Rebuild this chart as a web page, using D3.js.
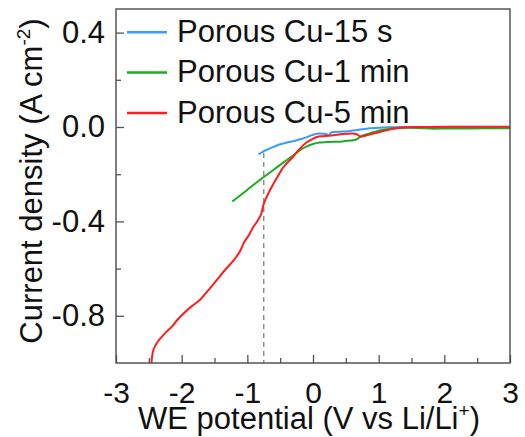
<!DOCTYPE html>
<html>
<head>
<meta charset="utf-8">
<script src="https://cdn.jsdelivr.net/npm/d3@7"></script>
<style>
  body { margin: 0; background: #fff; }
  text { font-family: "Liberation Sans", Arial, Helvetica, sans-serif; fill: #111; }
</style>
</head>
<body>
<svg id="chart" width="525" height="437"></svg>
<script>
// Linear sweep voltammetry of porous Cu electrodes
const seriesNames = ["Porous Cu-15 s", "Porous Cu-1 min", "Porous Cu-5 min"];
const seriesColors = ["#3b9cff", "#1faa22", "#ff1c1c"];

const blueX = [-0.83, -0.76, -0.70, -0.60, -0.50, -0.40, -0.30, -0.20, -0.10, 0.00, 0.10, 0.20, 0.24, 0.27, 0.31, 0.45, 0.56, 0.70, 0.82, 0.95, 1.07, 1.20, 1.32, 1.60, 2.00, 2.50, 3.00];
const blueY = [-0.116, -0.104, -0.096, -0.084, -0.073, -0.066, -0.060, -0.052, -0.044, -0.033, -0.028, -0.030, -0.036, -0.025, -0.021, -0.019, -0.017, -0.012, -0.007, -0.004, -0.002, -0.001, 0.000, 0.000, 0.000, 0.000, 0.000];

const greenX = [-1.23, -1.10, -1.00, -0.90, -0.76, -0.60, -0.45, -0.30, -0.20, -0.10, 0.00, 0.10, 0.20, 0.30, 0.45, 0.55, 0.64, 0.70, 0.76, 0.85, 0.95, 1.07, 1.17, 1.30, 1.47, 1.65, 1.83, 2.10, 2.40, 2.70, 3.00];
const greenY = [-0.316, -0.288, -0.266, -0.244, -0.214, -0.181, -0.150, -0.120, -0.098, -0.083, -0.072, -0.066, -0.064, -0.063, -0.061, -0.058, -0.055, -0.046, -0.036, -0.028, -0.020, -0.012, -0.007, -0.004, -0.003, -0.005, -0.007, -0.006, -0.006, -0.005, -0.005];

const redX = [-2.46, -2.455, -2.445, -2.43, -2.40, -2.36, -2.30, -2.23, -2.15, -2.08, -1.975, -1.85, -1.72, -1.59, -1.47, -1.34, -1.21, -1.10, -1.06, -0.97, -0.91, -0.84, -0.78, -0.76, -0.72, -0.65, -0.55, -0.45, -0.30, -0.20, -0.10, 0.00, 0.06, 0.15, 0.31, 0.45, 0.60, 0.66, 0.72, 0.82, 0.95, 1.07, 1.20, 1.32, 1.45, 1.63, 2.00, 2.50, 3.00];
const redY = [-1.000, -0.985, -0.962, -0.945, -0.926, -0.908, -0.888, -0.867, -0.846, -0.822, -0.791, -0.760, -0.732, -0.690, -0.650, -0.606, -0.565, -0.520, -0.494, -0.455, -0.424, -0.395, -0.360, -0.335, -0.305, -0.265, -0.215, -0.170, -0.125, -0.092, -0.066, -0.050, -0.042, -0.039, -0.035, -0.030, -0.028, -0.030, -0.040, -0.035, -0.026, -0.017, -0.009, -0.003, -0.001, 0.000, 0.001, 0.001, 0.001];

// Onset marker (dashed guide)
const guideX = -0.75;
const guideTop = -0.11;

const xMajor = [-3, -2, -1, 0, 1, 2, 3];
const xMinor = [-2.5, -1.5, -0.5, 0.5, 1.5, 2.5];
const yMajor = [0.4, 0.0, -0.4, -0.8];
const yMinor = [0.2, -0.2, -0.6];

const margin = { left: 116, right: 15, top: 9, bottom: 74 };
const W = 525, H = 437;
const svg = d3.select("#chart");

const x = d3.scaleLinear().domain([-3, 3]).range([margin.left, W - margin.right]);
const y = d3.scaleLinear().domain([-1.0, 0.5]).range([H - margin.bottom, margin.top]);

// plain hyphen-minus for negative tick labels
const locale = d3.formatLocale({ decimal: ".", thousands: ",", grouping: [3], currency: ["", ""], minus: "-" });
const fmtX = locale.format("d");
const fmtY = locale.format(".1f");

const clipId = "plot-clip";
svg.append("clipPath").attr("id", clipId)
  .append("rect")
  .attr("x", x(-3)).attr("y", y(0.5))
  .attr("width", x(3) - x(-3)).attr("height", y(-1.0) - y(0.5));

const plot = svg.append("g").attr("clip-path", `url(#${clipId})`);

// dashed guide
plot.append("line")
  .attr("x1", x(guideX)).attr("x2", x(guideX))
  .attr("y1", y(guideTop)).attr("y2", y(-1.0))
  .attr("stroke", "#8a8a8a").attr("stroke-width", 1.4)
  .attr("stroke-dasharray", "5,4");

const line = d3.line().x(d => x(d[0])).y(d => y(d[1])).curve(d3.curveMonotoneX);
const seriesData = [
  d3.zip(blueX, blueY),
  d3.zip(greenX, greenY),
  d3.zip(redX, redY)
];
seriesData.forEach((pts, i) => {
  plot.append("path")
    .datum(pts)
    .attr("d", line)
    .attr("fill", "none")
    .attr("stroke", seriesColors[i])
    .attr("stroke-width", 2)
    .attr("stroke-linejoin", "round");
});

// axes with inward ticks
const axisColor = "#555";
const xAxisG = svg.append("g").attr("transform", `translate(0,${y(-1.0)})`)
  .call(d3.axisBottom(x).tickValues(xMajor).tickSize(-8).tickPadding(19).tickFormat(fmtX));
svg.append("g").attr("transform", `translate(0,${y(-1.0)})`)
  .call(d3.axisBottom(x).tickValues(xMinor).tickSize(-5).tickFormat(""));
const yAxisG = svg.append("g").attr("transform", `translate(${x(-3)},0)`)
  .call(d3.axisLeft(y).tickValues(yMajor).tickSize(-8).tickPadding(11).tickFormat(fmtY));
svg.append("g").attr("transform", `translate(${x(-3)},0)`)
  .call(d3.axisLeft(y).tickValues(yMinor).tickSize(-5).tickFormat(""));

svg.selectAll(".domain").remove();
svg.selectAll(".tick line").attr("stroke", axisColor).attr("stroke-width", 1.3);
svg.selectAll(".tick text")
  .attr("font-family", "Liberation Sans, Arial, sans-serif")
  .attr("fill", "#111");
yAxisG.selectAll(".tick text").attr("font-size", 31);
xAxisG.selectAll(".tick text").attr("font-size", 30);

// frame
svg.append("rect")
  .attr("x", x(-3)).attr("y", y(0.5))
  .attr("width", x(3) - x(-3)).attr("height", y(-1.0) - y(0.5))
  .attr("fill", "none").attr("stroke", axisColor).attr("stroke-width", 1.5);

// axis titles
const xt = svg.append("text")
  .attr("x", 309).attr("y", 429)
  .attr("text-anchor", "middle").attr("font-size", 31);
xt.append("tspan").text("WE potential (V vs Li/Li");
xt.append("tspan").attr("font-size", 19).attr("dy", -12).text("+");
xt.append("tspan").attr("dy", 12).text(")");

const yt = svg.append("text")
  .attr("transform", `translate(42,${(y(0.5) + y(-1.0)) / 2 - 5}) rotate(-90)`)
  .attr("text-anchor", "middle").attr("font-size", 31);
yt.append("tspan").text("Current density (A cm");
yt.append("tspan").attr("font-size", 19).attr("dy", -12).text("-2");
yt.append("tspan").attr("dy", 12).text(")");

// legend
const legendRows = [32.3, 72.6, 113];
seriesNames.forEach((name, i) => {
  const g = svg.append("g");
  g.append("line")
    .attr("x1", 127).attr("x2", 167)
    .attr("y1", legendRows[i]).attr("y2", legendRows[i])
    .attr("stroke", seriesColors[i]).attr("stroke-width", 2.5);
  g.append("text")
    .attr("x", 177).attr("y", legendRows[i] + 9.5)
    .attr("font-size", 31)
    .text(name);
});
</script>
</body>
</html>
